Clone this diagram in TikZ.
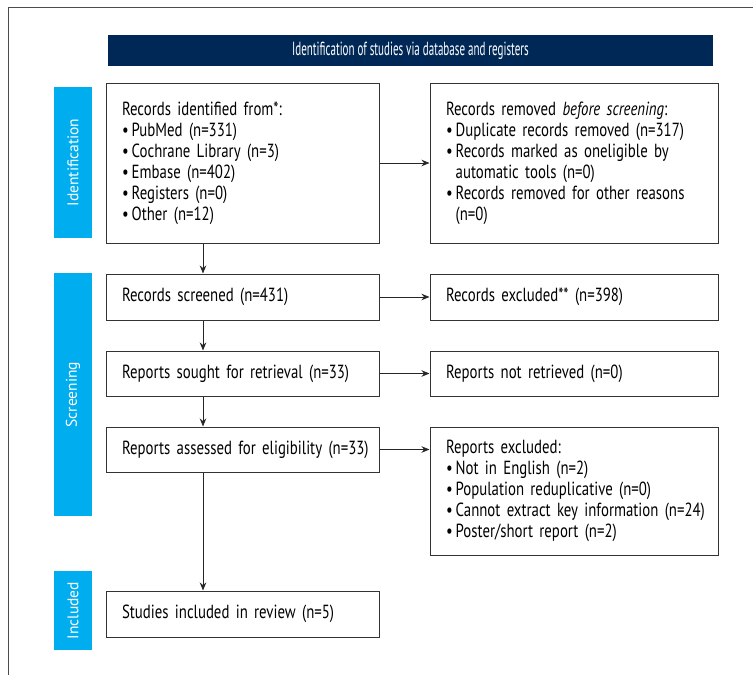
\documentclass[tikz,border=0pt]{standalone}
\usepackage{fontspec}
\setmainfont{PT Sans}[FakeStretch=0.78]
\newfontfamily\barfont{PT Sans}
\newfontfamily\headfont{PT Sans}[FakeStretch=0.58]
\usetikzlibrary{arrows.meta}
\definecolor{navy}{RGB}{0,40,86}
\definecolor{skyblue}{RGB}{0,174,239}
\newcommand{\bul}{\textbullet\hspace{3pt}}
\newcommand{\hang}{\phantom{\textbullet}\hspace{3pt}}
\newcommand{\boxfont}{\fontsize{19}{21}\selectfont}
\newcommand{\titlefont}{\headfont\fontsize{19}{20}\selectfont}

\begin{document}
\begin{tikzpicture}[x=1pt,y=-1pt,
    box/.style={draw=black!80,line width=1pt,inner xsep=16pt,inner ysep=0pt,
      align=left,font=\boxfont},
    leftbox/.style={box,text width=241pt},
    rightbox/.style={box,text width=256pt},
    phase/.style={fill=skyblue,text=white,rotate=90,minimum height=38pt,
      inner sep=0pt,font=\barfont\fontsize{15.5}{18}\selectfont},
    arr/.style={-{Stealth[length=8pt,width=6.5pt]},line width=0.9pt,black!85}]
    \useasboundingbox (0,0) rectangle (753,675);
    \draw[line width=0.8pt,black!70] (8,675) -- (8,7) -- (753,7);
    \coordinate (spine) at (203,0);

    \node[fill=navy,text=white,minimum width=605pt,minimum height=31pt,inner sep=0pt,
      font=\titlefont] (head) at (410.5,50.5)
      {Identification of studies via database and registers};

    \node[phase,minimum width=151pt] (pid) at (73,162.5) {Identification};
    \node[phase,minimum width=243pt] (pscr) at (73,394.5) {Screening};
    \node[phase,minimum width=79pt] (pinc) at (73,610.5) {Included};

    \node[leftbox,minimum height=160pt] (ident) at (242.5,163) {Records identified from*:\\
      \bul PubMed (n=331)\\
      \bul Cochrane Library (n=3)\\
      \bul Embase (n=402)\\
      \bul Registers (n=0)\\
      \bul Other (n=12)\\[14pt]};
    \node[rightbox,minimum height=160pt] (removed) at (574,163) {Records removed \textit{before screening}:\\
      \bul Duplicate records removed (n=317)\\
      \bul Records marked as oneligible by\\
      \hang automatic tools (n=0)\\
      \bul Records removed for other reasons\\
      \hang (n=0)};

    \node[leftbox,minimum height=46pt] (screened) at (242.5,297) {Records screened (n=431)};
    \node[rightbox,minimum height=46pt] (excluded) at (574,297) {Records excluded** (n=398)};
    \node[leftbox,minimum height=45pt] (sought) at (242.5,373.5) {Reports sought for retrieval (n=33)};
    \node[rightbox,minimum height=45pt] (notret) at (574,373.5) {Reports not retrieved (n=0)};
    \node[leftbox,minimum height=45pt] (assessed) at (242.5,449.5) {\mbox{Reports assessed for eligibility (n=33)}};
    \node[rightbox,minimum height=128pt] (repexcl) at (574,491) {Reports excluded:\\
      \bul Not in English (n=2)\\
      \bul Population reduplicative (n=0)\\
      \mbox{\bul Cannot extract key information (n=24)}\\
      \bul Poster/short report (n=2)};
    \node[leftbox,minimum height=46pt] (included) at (242.5,614) {Studies included in review (n=5)};

    \draw[arr] (ident.south -| spine) -- (screened.north -| spine);
    \draw[arr] (screened.south -| spine) -- (sought.north -| spine);
    \draw[arr] (sought.south -| spine) -- (assessed.north -| spine);
    \draw[arr] (assessed.south -| spine) -- (included.north -| spine);
    \draw[arr] (ident.east) -- (removed.west);
    \draw[arr] (screened.east) -- (excluded.west);
    \draw[arr] (sought.east) -- (notret.west);
    \draw[arr] (assessed.east) -- (assessed.east -| repexcl.west);
  \end{tikzpicture}
\end{document}
